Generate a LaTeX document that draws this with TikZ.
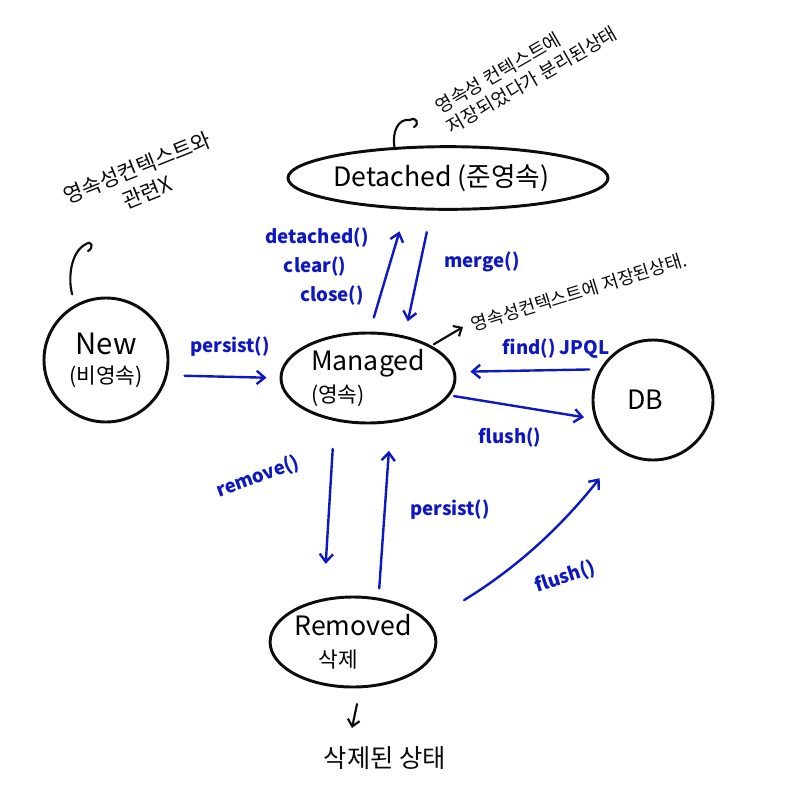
\documentclass[tikz,border=0pt]{standalone}
\usepackage{fontspec}
\setmainfont{Noto Sans CJK KR}
\usetikzlibrary{arrows.meta,shapes.geometric}
\definecolor{pen}{RGB}{12,12,12}
\definecolor{ink}{RGB}{14,24,190}
\begin{document}
\begin{tikzpicture}[x=0.75pt,y=-0.75pt,
  state/.style={draw=pen,line width=2.2pt,ellipse,inner sep=0pt,
    font=\fontsize{20}{24}\selectfont,align=center},
  flow/.style={draw=ink,line width=1.8pt,line cap=round,
    -{Straight Barb[length=6pt,width=10pt,line width=1.8pt]}},
  lbl/.style={text=ink,font=\fontsize{14}{17}\selectfont\bfseries,inner sep=1pt},
  note/.style={text=pen,font=\fontsize{13}{16}\selectfont,inner sep=1pt},
  hook/.style={draw=pen,line width=1.6pt,line cap=round},
  pointer/.style={hook,-{Straight Barb[length=5pt,width=9pt,line width=1.6pt]}}
]
\useasboundingbox[fill=white] (0,0) rectangle (800,808);

% states
\node[state,minimum width=240pt,minimum height=47pt] (detached) at (448,178) {\hspace*{-10pt}Detached (준영속)};
\node[state,circle,minimum size=93pt] (new) at (106,360) {{\fontsize{22}{26}\selectfont New}\\[-2pt]{\fontsize{16}{19}\selectfont(비영속)}};
\node[state,minimum width=130.5pt,minimum height=67.5pt,align=left] (managed) at (368,378) {Managed\\{\fontsize{16}{19}\selectfont(영속)}};
\node[state,circle,minimum size=90pt] (db) at (653,400) {DB\hspace*{12pt}};
\node[state,minimum width=117pt,minimum height=67.5pt] (removed) at (353,642) {Removed\\{\fontsize{16}{19}\selectfont 삭제}\hspace*{22pt}};

% transitions
\draw[flow,shorten <=12.75pt,shorten >=9.75pt] (new.-14) -- (managed.180);
\draw[flow,shorten <=11pt,shorten >=17pt] (managed.88) -- (detached.217);
\draw[flow,shorten <=16.5pt,shorten >=11pt] (detached.243) -- (managed.49);
\draw[flow,shorten <=8pt,shorten >=11pt] (db.150) -- (managed.4);
\draw[flow,shorten <=3pt,shorten >=8pt] (managed.-12) -- (db.198);
\draw[flow,shorten <=21pt,shorten >=26pt] (managed.232) -- (removed.124);
\draw[flow,shorten <=7pt,shorten >=21pt] (removed.60) -- (managed.-63);
\draw[flow,shorten <=31pt,shorten >=25pt] (removed.15) to[bend right=10] (db.-122);

% transition labels
\node[lbl] (lpersistA) at (230,347) {persist()};
\node[lbl] (ldetach) at (317,238) {detached()};
\node[lbl] (lclear) at (315,267) {clear()};
\node[lbl] (lclose) at (332,296) {close()};
\node[lbl] (lmerge) at (482,262) {merge()};
\node[lbl] (lfind) at (556,349) {find() JPQL};
\node[lbl] (lflushA) at (510,438) {flush()};
\node[lbl,rotate=20] (lremove) at (258,477) {remove()};
\node[lbl] (lpersistB) at (450,510) {persist()};
\node[lbl,rotate=18] (lflushB) at (565,577) {flush()};

% annotations
\node[note,rotate=30,align=left,font=\fontsize{14}{17}\selectfont] (ndetached) at (526,70) {영속성 컨텍스트에\\저장되었다가 분리된상태};
\coordinate (dhookend) at (410,120);
\draw[hook] (detached.150) .. controls (392,132) and (398,118) .. (dhookend);
\draw[hook] (dhookend) .. controls (416,116) and (420,124) .. (414,127);

\node[note,rotate=22,align=center,font=\fontsize{16}{20}\selectfont] (nnew) at (142,180) {영속성컨텍스트와\\관련X};
\coordinate (nhookend) at (86,244);
\draw[hook,shorten <=8pt] (new.119) .. controls (68,280) and (70,252) .. (nhookend);
\draw[hook] (nhookend) .. controls (92,240) and (94,248) .. (88,251);

\node[note,rotate=17,font=\fontsize{13.5}{16}\selectfont] (nmanaged) at (579,292) {영속성컨텍스트에 저장된상태.};
\coordinate (mpointend) at (463,327);
\draw[pointer,shorten <=2pt] (managed.27) -- (mpointend);

\node[note,font=\fontsize{19}{22}\selectfont] (nremoved) at (385,758) {삭제된 상태};
\coordinate (rpointend) at (352,728);
\draw[pointer,shorten <=12pt] (removed.-81) -- (rpointend);
\end{tikzpicture}
\end{document}
